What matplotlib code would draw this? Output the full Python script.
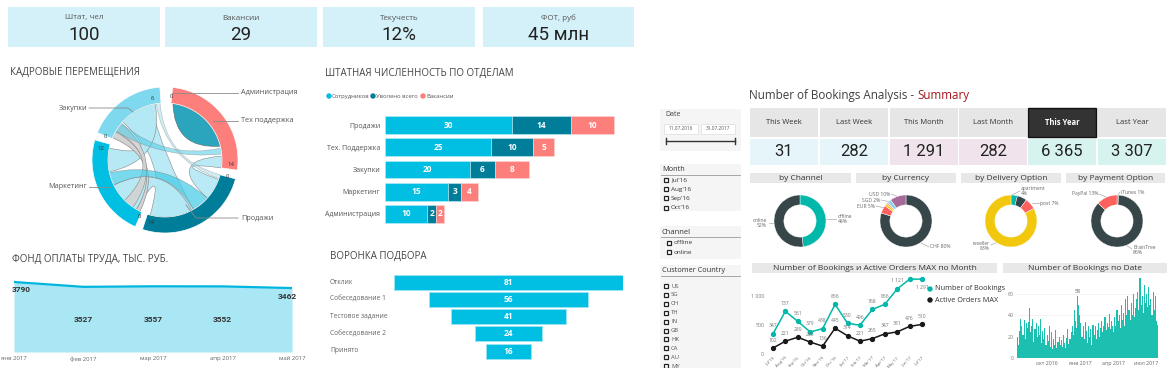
import matplotlib
matplotlib.use('Agg')
import matplotlib.pyplot as plt
from matplotlib.patches import Rectangle, Polygon, PathPatch, Circle
from matplotlib.path import Path
import numpy as np

plt.rcParams['font.family'] = ['Open Sans', 'DejaVu Sans']

# ---------------- data ----------------
kpi_titles = ['Штат, чел', 'Вакансии', 'Текучесть', 'ФОТ, руб']
kpi_values = ['100', '29', '12%', '45 млн']

chord_depts = ['Администрация', 'Тех поддержка', 'Продажи', 'Маркетинг', 'Закупки']

dept = ['Продажи', 'Тех. Поддержка', 'Закупки', 'Маркетинг', 'Администрация']
staff = [30, 25, 20, 15, 10]
fired = [14, 10, 6, 3, 2]
vacancies = [10, 5, 8, 4, 2]
bar_series = ['Сотрудников', 'Уволено всего', 'Вакансии']

payroll_months = ['янв 2017', 'фев 2017', 'мар 2017', 'апр 2017', 'май 2017']
payroll = [3790, 3527, 3557, 3552, 3462]

funnel_stages = ['Отклик', 'Собеседование 1', 'Тестовое задание', 'Собеседование 2', 'Принято']
funnel_vals = [81, 56, 41, 24, 16]

summary_periods = ['This Week', 'Last Week', 'This Month', 'Last Month', 'This Year', 'Last Year']
summary_values = ['31', '282', '1 291', '282', '6 365', '3 307']

slicer_months = ["Jul'16", "Aug'16", "Sep'16", "Oct'16"]
slicer_channels = ['offline', 'online']
slicer_countries = ['US', 'SG', 'CH', 'TH', 'IN', 'GB', 'HK', 'CA', 'AU', 'MY']

channel_vals = [48, 52]
currency_vals = [80, 5, 1.5, 1, 2.5, 10]
delivery_vals = [4, 6, 7, 83]
payment_vals = [1, 86, 13]

months_bk = ["Jul'16", "Aug'16", "Sep'16", "Oct'16", "Nov'16", "Dec'16", "Jan'17",
             "Feb'17", "Mar'17", "Apr'17", "May'17", "Jun'17", "Jul'17"]
bookings = [347, 737, 561, 379, 438, 856, 530, 496, 768, 856, 1121, 1290, 1291]
active_orders = [102, 221, 289, 205, 136, 445, 314, 221, 265, 347, 381, 476, 510]

daily_ticks = ['окт 2016', 'янв 2017', 'апр 2017', 'июл 2017']
daily_bookings = [20, 12, 25, 37, 30, 22, 36, 18, 33, 28,
                  34, 47, 24, 30, 37, 15, 27, 33, 20, 30,
                  22, 37, 14, 25, 18, 28, 12, 22, 16, 30,
                  10, 24, 8, 18, 12, 26, 9, 15, 20, 12,
                  17, 10, 22, 14, 9, 19, 27, 13, 18, 24,
                  30, 22, 45, 35, 28, 58, 50, 40, 33, 20,
                  30, 18, 34, 25, 14, 30, 20, 27, 12, 31,
                  22, 30, 18, 26, 33, 20, 28, 35, 24, 30,
                  38, 26, 33, 29, 41, 27, 35, 30, 24, 38,
                  30, 45, 35, 40, 28, 50, 36, 42, 30, 55,
                  40, 58, 45, 36, 52, 40, 60, 38, 47, 55,
                  62, 45, 76, 50, 58, 42, 68, 52, 60, 48,
                  67, 50, 55, 40, 62, 45, 58, 35, 31]

# ---------------- figure ----------------
W, H = 1170, 368
fig = plt.figure(figsize=(11.7, 3.68), dpi=100)
bg = fig.add_axes([0, 0, 1, 1])
bg.set_xlim(0, W); bg.set_ylim(H, 0); bg.axis('off')


def pax(x, y, w, h):
    a = fig.add_axes([x / W, 1 - (y + h) / H, w / W, h / H])
    a.set_facecolor('none')
    return a


def rect(x, y, w, h, fc, ec='none', lw=0, z=1):
    bg.add_patch(Rectangle((x, y), w, h, facecolor=fc, edgecolor=ec, lw=lw, zorder=z))


def txt(x, y, s, size=6, color='#444', ha='left', va='center', **kw):
    return bg.text(x, y, s, fontsize=size, color=color, ha=ha, va=va, zorder=10, **kw)


CYAN = '#00bfe2'
DARK = '#007d99'
SALMON = '#fd7f7c'

# ---------------- left KPI cards ----------------
card_x = [8, 165, 323, 483]
card_w = [152, 152, 152, 151]
for x, w, t, v in zip(card_x, card_w, kpi_titles, kpi_values):
    rect(x, 7, w, 40, '#d4f1f9')
    txt(x + w / 2, 18, t, 5.8, '#555', ha='center')
    txt(x + w / 2, 35, v, 13.5, '#222', ha='center', family=['Roboto', 'DejaVu Sans'])

# ---------------- chord diagram ----------------
txt(10, 72, 'КАДРОВЫЕ ПЕРЕМЕЩЕНИЯ', 7, '#444')
cx, cy = 165, 160
R_OUT, R_IN = 73, 57


def P(r, a):
    return (cx + r * np.cos(np.radians(a)), cy - r * np.sin(np.radians(a)))


def arc(r, a1, a2, n=40):
    a = np.radians(np.linspace(a1, a2, n))
    return list(zip(cx + r * np.cos(a), cy - r * np.sin(a)))


def annulus(a1, a2, fc):
    pts = arc(R_OUT, a1, a2) + arc(R_IN, a2, a1)
    bg.add_patch(Polygon(pts, closed=True, facecolor=fc, edgecolor='white', lw=0.5, zorder=4))


def ribbon(a1, a2, b1, b2, fc, alpha=1.0, ec='#808080', ctl=0.0):
    r = R_IN
    A = arc(r, a1, a2)
    verts = A[:]
    codes = [Path.MOVETO] + [Path.LINETO] * (len(A) - 1)
    verts += [P(ctl, (a2 + b1) / 2), P(r, b1)]
    codes += [Path.CURVE3, Path.CURVE3]
    B = arc(r, b1, b2)
    verts += B[1:]
    codes += [Path.LINETO] * (len(B) - 1)
    verts += [P(ctl, (b2 + a1) / 2), P(r, a1)]
    codes += [Path.CURVE3, Path.CURVE3]
    bg.add_patch(PathPatch(Path(verts, codes), facecolor=fc, alpha=alpha,
                           edgecolor=ec, lw=0.4, zorder=3))


LIGHT = '#b3e8f5'
ribbon(105, 135, 262, 300, LIGHT, 0.9)
ribbon(255, 298, 206, 240, LIGHT, 0.95)
ribbon(100, 138, 168, 192, LIGHT, 0.95)
ribbon(352, 364, 318, 340, LIGHT, 0.9)
ribbon(150, 157, 240, 244, '#d2d2d2', 1.0)
ribbon(140, 149, 225, 236, '#d2d2d2', 0.9)
ribbon(300, 318, 193, 206, '#40cbe8', 0.7)
ribbon(366, 372, 140, 150, '#4ccbe6', 0.55)
ribbon(95, 99, 341, 345, '#9fdcec', 0.5)
# self chord (Тех поддержка)
S = arc(R_IN, 14, 82)
verts = S + [P(14, 48), P(R_IN, 14)]
codes = [Path.MOVETO] + [Path.LINETO] * (len(S) - 1) + [Path.CURVE3, Path.CURVE3]
bg.add_patch(PathPatch(Path(verts, codes), facecolor='#2ba4bd', edgecolor='#6a6a6a', lw=0.4, zorder=3))

annulus(-8, 84, SALMON)
annulus(-108, -15, DARK)
annulus(-196, -114, CYAN)
annulus(94, 158, '#7fd9ee')

for (x, y, s) in [(171, 97, '0'), (152, 98, '6'), (105, 137, '0'), (101, 149, '12'),
                  (139, 216, '0'), (151, 222, '14'), (227, 176, '0'), (231, 164, '14')]:
    txt(x, y, s, 4.3, '#333', ha='center')

lead = '#8a8a8a'
bg.plot([172, 238], [93, 93], color=lead, lw=0.6, zorder=6)
txt(241, 93, chord_depts[0], 5.2, '#555')
bg.plot([213, 238], [121, 121], color=lead, lw=0.6, zorder=6)
txt(241, 121, chord_depts[1], 5.2, '#555')
bg.plot([186, 196, 238], [205, 218, 218], color=lead, lw=0.6, zorder=6)
txt(241, 218, chord_depts[2], 5.2, '#555')
bg.plot([89, 110], [187, 187], color=lead, lw=0.6, zorder=6)
txt(87, 187, chord_depts[3], 5.2, '#555', ha='right')
bg.plot([89, 128, 133], [108, 108, 112], color=lead, lw=0.6, zorder=6)
txt(87, 108, chord_depts[4], 5.2, '#555', ha='right')

# ---------------- stacked bars ----------------
txt(325, 73, 'ШТАТНАЯ ЧИСЛЕННОСТЬ ПО ОТДЕЛАМ', 7, '#444')
for xx, col, lab in [(329, CYAN, bar_series[0]), (373, DARK, bar_series[1]), (423, SALMON, bar_series[2])]:
    bg.add_patch(Circle((xx, 96), 2, color=col, zorder=5))
    txt(xx + 3, 96, lab, 4.2, '#555')

axb = pax(385, 114, 255, 111)
yy = np.arange(len(dept))
left2 = [a + b for a, b in zip(staff, fired)]
axb.barh(yy, staff, height=0.8, color=CYAN, edgecolor='#bfeef8', lw=0.4)
axb.barh(yy, fired, left=staff, height=0.8, color=DARK, edgecolor='#bfeef8', lw=0.4)
axb.barh(yy, vacancies, left=left2, height=0.8, color=SALMON, edgecolor='#ffd6d5', lw=0.4)
for i in range(len(dept)):
    axb.text(staff[i] / 2, i, str(staff[i]), color='white', fontsize=6, ha='center', va='center', weight='bold')
    axb.text(staff[i] + fired[i] / 2, i, str(fired[i]), color='white', fontsize=6, ha='center', va='center', weight='bold')
    axb.text(left2[i] + vacancies[i] / 2, i, str(vacancies[i]), color='white', fontsize=6, ha='center', va='center', weight='bold')
axb.set_xlim(0, 60.24)
axb.set_ylim(4.5, -0.5)
axb.set_yticks(yy, dept, fontsize=5, color='#555')
axb.tick_params(axis='y', length=0, pad=3.5)
axb.set_xticks([])
for s in axb.spines.values():
    s.set_visible(False)

# ---------------- payroll area ----------------
txt(12, 259, 'ФОНД ОПЛАТЫ ТРУДА, ТЫС. РУБ.', 7, '#444')
axa = pax(14, 272, 278, 80)
xi = np.arange(len(payroll))
axa.fill_between(xi, payroll, color='#a9e7f4', lw=0)
axa.plot(xi, payroll, color='#00b6df', lw=1.6)
axa.set_xlim(0, 4)
axa.set_ylim(0, 4331)
axa.set_xticks(xi, payroll_months, fontsize=4.3, color='#666')
axa.set_yticks([])
axa.tick_params(axis='x', length=0, pad=3)
for s in axa.spines.values():
    s.set_visible(False)
fk = dict(fontsize=6, color='#333', weight='bold', family=['Roboto', 'DejaVu Sans'])
axa.annotate(str(payroll[0]), (0, payroll[0]), xytext=(-1.5, -5.5), textcoords='offset points', ha='left', va='center', **fk)
axa.annotate(str(payroll[-1]), (4, payroll[-1]), xytext=(-3.5, -6), textcoords='offset points', ha='center', va='center', **fk)
for i in range(1, 4):
    axa.text(i, payroll[i] / 2, str(payroll[i]), ha='center', va='center', **fk)

# ---------------- funnel ----------------
txt(330, 256, 'ВОРОНКА ПОДБОРА', 7, '#444')
axf = pax(394, 273.4, 229, 86.25)
fy = np.arange(len(funnel_vals))
axf.barh(fy, funnel_vals, left=[-v / 2 for v in funnel_vals], height=15 / 17.25,
         color='#00bfe3', edgecolor='#9ee5f3', lw=0.6)
for i, v in enumerate(funnel_vals):
    axf.text(0, i, str(v), color='white', fontsize=6, ha='center', va='center', weight='bold')
axf.set_xlim(-40.5, 40.5)
axf.set_ylim(4.5, -0.5)
axf.axis('off')
for i, s in enumerate(funnel_stages):
    txt(330, 282 + i * 17.25, s, 4.8, '#666')

# ---------------- right dashboard ----------------
t1 = txt(749, 95, 'Number of Bookings Analysis - ', 8.4, '#404040')
fig.canvas.draw()
bb = t1.get_window_extent()
x_end = bg.transData.inverted().transform((bb.x1, bb.y0))[0]
txt(x_end, 95, 'Summary', 8.4, '#a3161b')

# Date slicer
rect(660, 109, 81, 42, '#f5f5f5')
txt(665, 115, 'Date', 5, '#444')
rect(664, 124, 34, 10, 'white', '#dddddd', 0.5, z=2)
rect(701, 124, 34, 10, 'white', '#dddddd', 0.5, z=2)
txt(681, 129, '11.07.2016', 3.4, '#555', ha='center')
txt(718, 129, '31.07.2017', 3.4, '#555', ha='center')
bg.plot([666, 735], [141, 141], color='#333', lw=1.0, zorder=5)
bg.plot([666, 666], [138, 144], color='#333', lw=1.0, zorder=5)
bg.plot([735, 735], [138, 144], color='#333', lw=1.0, zorder=5)


def checkbox(x, y):
    rect(x, y - 2, 4, 4, 'white', '#222', 0.9, z=5)


# Month slicer
rect(660, 164, 81, 47, '#f5f5f5')
txt(662, 169.5, 'Month', 5.3, '#333')
bg.plot([661, 740], [174.5, 174.5], color='#999', lw=0.6, zorder=5)
for i, m in enumerate(slicer_months):
    y = 180 + i * 9.2
    checkbox(664, y)
    txt(671, y, m, 4.6, '#333')

# Channel slicer
rect(660, 226, 81, 33, '#f5f5f5')
txt(662, 232, 'Channel', 5.5, '#333')
bg.plot([661, 740], [237, 237], color='#999', lw=0.6, zorder=5)
for i, m in enumerate(slicer_channels):
    y = 243 + i * 9
    checkbox(667, y)
    txt(674, y, m, 4.6, '#333')

# Customer country slicer
rect(660, 265, 81, 103, '#f5f5f5')
txt(662, 271, 'Customer Country', 5.3, '#333')
bg.plot([661, 740], [276, 276], color='#999', lw=0.6, zorder=5)
for i, m in enumerate(slicer_countries):
    y = 286 + i * 8.9
    checkbox(664, y)
    txt(671, y, m, 4.2, '#555')

# Summary table
col_x = [750, 820, 890, 959, 1028, 1098]
val_bg = ['#e5f5fa', '#e5f5fa', '#f0e3ec', '#f0e3ec', '#d6f3ef', '#d6f3ef']
for i, (x, p, v) in enumerate(zip(col_x, summary_periods, summary_values)):
    if p == 'This Year':
        rect(x, 108, 68, 29, '#333333', '#111111', 1.0)
        txt(x + 34, 122.5, p, 5.5, 'white', ha='center', weight='bold')
    else:
        rect(x, 108, 68, 29, '#e6e6e6')
        txt(x + 34, 122.5, p, 5.5, '#333', ha='center')
    rect(x, 139, 68, 26, val_bg[i])
    txt(x + 34, 152, v, 12, '#222', ha='center', family=['Roboto', 'DejaVu Sans'])

# donut headers
for (x0, x1, s) in [(750, 851, 'by Channel'), (856, 956, 'by Currency'),
                    (961, 1061, 'by Delivery Option'), (1066, 1165, 'by Payment Option')]:
    rect(x0, 173, x1 - x0, 10, '#e8e8e8')
    txt((x0 + x1) / 2, 178, s, 6, '#333', ha='center')

TEAL = '#01b8aa'
DK = '#374649'
RED = '#fd625e'
YEL = '#f2c80f'


def donut(cxx, cyy, vals, cols):
    a = pax(cxx - 26, cyy - 26, 52, 52)
    a.pie(vals, colors=cols, startangle=90, counterclock=False, radius=1,
          wedgeprops=dict(width=0.38, edgecolor='white', linewidth=0.3))
    a.set_xlim(-1, 1); a.set_ylim(-1, 1)
    a.set_aspect('equal')


donut(800, 221, channel_vals, [TEAL, DK])
donut(906, 221, currency_vals, [DK, RED, YEL, '#fe9666', '#8ad4eb', '#a66999'])
donut(1011, 221, delivery_vals, [TEAL, DK, RED, YEL])
donut(1117, 221, payment_vals, [TEAL, DK, RED])

lk = dict(color='#aaaaaa', lw=0.5, zorder=6)
lf = 3.6
bg.plot([769, 775], [223, 223], **lk); txt(767, 223, 'online\n52%', lf, '#666', ha='right', linespacing=1.0)
bg.plot([826, 836], [219, 219], **lk); txt(838, 219, 'offline\n48%', lf, '#666', linespacing=1.0)
bg.plot([891, 899], [194, 197], **lk); txt(890, 194, 'USD 10%', lf, '#666', ha='right')
bg.plot([881, 891], [200, 202], **lk); txt(880, 200, 'SGD 2%', lf, '#666', ha='right')
bg.plot([876, 885], [206, 208], **lk); txt(875, 206, 'EUR 5%', lf, '#666', ha='right')
bg.plot([921, 929], [243, 247], **lk); txt(930, 247, 'CHF 80%', lf, '#666')
bg.plot([1012, 1020], [195, 191], **lk); txt(1021, 191, 'apartment\n4%', lf, '#666', linespacing=1.0)
bg.plot([1032, 1039], [203, 203], **lk); txt(1040, 203, 'post 7%', lf, '#666')
bg.plot([991, 998], [245, 242], **lk); txt(990, 246, 'reseller\n83%', lf, '#666', ha='right', linespacing=1.0)
bg.plot([1099, 1106], [194, 197], **lk); txt(1098, 194, 'PayPal 13%', lf, '#666', ha='right')
bg.plot([1118, 1120], [195, 192], **lk); txt(1121, 192, 'iTunes 1%', lf, '#666')
bg.plot([1126, 1132], [245, 249], **lk); txt(1133, 250, 'BrainTree\n86%', lf, '#666', linespacing=1.0)

# line chart
rect(752, 263, 245, 10, '#e8e8e8')
txt(874.5, 268, 'Number of Bookings и Active Orders MAX по Month', 6, '#333', ha='center')
axl = pax(767, 278, 161, 76)
mx = np.arange(len(months_bk))
axl.plot(mx, bookings, color=TEAL, lw=1.1, marker='o', ms=2.8, clip_on=False)
axl.plot(mx, active_orders, color='#1a1a1a', lw=1.1, marker='o', ms=2.8, clip_on=False)
axl.set_xlim(-0.48, 12.48)
axl.set_ylim(0, 1310)
axl.set_yticks([0, 500, 1000], ['0', '500', '1 000'], fontsize=3.8, color='#777')
axl.set_xticks(mx, months_bk, fontsize=3.2, color='#666', rotation=45, ha='right', rotation_mode='anchor')
axl.tick_params(axis='y', length=0, pad=2)
axl.tick_params(axis='x', length=0, pad=1)
for s in axl.spines.values():
    s.set_visible(False)


def fmt(v):
    return f'{v:,}'.replace(',', ' ')


for i, v in enumerate(bookings):
    if v < 1200:
        axl.annotate(fmt(v), (i, v), xytext=(0, 4), textcoords='offset points',
                     ha='center', va='bottom', fontsize=3.6, color='#777')
    elif i == len(bookings) - 1:
        axl.annotate(fmt(v), (i, v), xytext=(0, -4), textcoords='offset points',
                     ha='center', va='top', fontsize=3.6, color='#777')
for i, v in enumerate(active_orders):
    axl.annotate(fmt(v), (i, v), xytext=(0, 4), textcoords='offset points',
                 ha='center', va='bottom', fontsize=3.6, color='#777')
bg.add_patch(Circle((930, 289), 2, color=TEAL, zorder=6))
txt(935, 289, 'Number of Bookings', 5.2, '#333')
bg.add_patch(Circle((930, 300), 2, color='#1a1a1a', zorder=6))
txt(935, 300, 'Active Orders MAX', 5.2, '#333')

# daily bar chart
rect(1003, 263, 164, 10, '#e8e8e8')
txt(1085, 268, 'Number of Bookings по Date', 6, '#333', ha='center')
axd = pax(1017, 278, 141, 80)
dx = np.arange(len(daily_bookings)) * 3
axd.bar(dx, daily_bookings, width=3, align='edge', color='#1cbfb0', lw=0)
axd.set_xlim(0, 387)
axd.set_ylim(0, 75)
axd.set_yticks([0, 20, 40, 60], ['0', '20', '40', '60'], fontsize=3.8, color='#777')
axd.set_xticks([82, 174, 264, 355], daily_ticks, fontsize=3.8, color='#666')
axd.tick_params(length=0, pad=2)
axd.grid(axis='y', color='#eeeeee', lw=0.5)
axd.set_axisbelow(True)
for s in axd.spines.values():
    s.set_visible(False)
imax1 = int(np.argmax(daily_bookings[:80]))
imax2 = int(np.argmax(daily_bookings))
for i in (imax1, imax2):
    axd.annotate(str(daily_bookings[i]), (dx[i] + 1.5, daily_bookings[i]), xytext=(0, 1.5),
                 textcoords='offset points', ha='center', va='bottom', fontsize=3.8, color='#555')

fig.savefig('out.png', dpi=100)
